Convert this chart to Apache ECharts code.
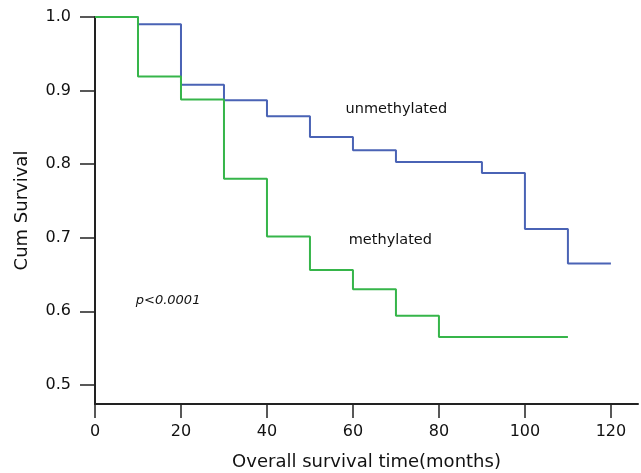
<!DOCTYPE html>
<html>
<head>
<meta charset="utf-8">
<script src="https://cdn.jsdelivr.net/npm/echarts@6/dist/echarts.min.js"></script>
<style>
  html, body { margin: 0; padding: 0; background: #fff; }
  #main { width: 641px; height: 473px; }
</style>
</head>
<body>
<div id="main"></div>
<script>
// step points: survival holds until next time point
var months = [0, 10, 20, 30, 40, 50, 60, 70, 80, 90, 100, 110, 120];
var unmethylated = [1.0, 0.99, 0.908, 0.887, 0.865, 0.837, 0.819, 0.803, 0.803, 0.788, 0.712, 0.665, 0.665];
var methylated = [1.0, 0.919, 0.888, 0.780, 0.7015, 0.656, 0.630, 0.594, 0.565, 0.565, 0.565, 0.565];
var xTicks = [0, 20, 40, 60, 80, 100, 120];
var yTicks = [0.5, 0.6, 0.7, 0.8, 0.9, 1.0];

var font = 'DejaVu Sans';
var axisColor = '#222';

function pairs(xs, ys) {
  return ys.map(function (v, i) { return [xs[i], v]; });
}

var chart = echarts.init(document.getElementById('main'));

chart.setOption({
  animation: false,
  backgroundColor: '#fff',
  grid: { left: 95, right: 3, top: 17, bottom: 69, outerBoundsMode: 'none' },
  xAxis: {
    type: 'value',
    min: 0,
    max: 126.3,
    name: 'Overall survival time(months)',
    nameLocation: 'middle',
    nameGap: 49,
    nameTextStyle: { fontFamily: font, fontSize: 18, color: '#111' },
    splitLine: { show: false },
    axisLine: { lineStyle: { color: axisColor, width: 2 } },
    axisTick: { customValues: xTicks, length: 14, lineStyle: { color: axisColor, width: 1.5 } },
    axisLabel: { customValues: xTicks, margin: 20, fontFamily: font, fontSize: 16, color: '#111' }
  },
  yAxis: {
    type: 'value',
    min: 0.474,
    max: 1.0,
    name: 'Cum Survival',
    nameLocation: 'middle',
    nameGap: 64,
    nameRotate: 90,
    nameTextStyle: { fontFamily: font, fontSize: 18, color: '#111' },
    splitLine: { show: false },
    axisLine: { lineStyle: { color: axisColor, width: 2 } },
    axisTick: { customValues: yTicks, length: 15, lineStyle: { color: axisColor, width: 1.5 } },
    axisLabel: {
      customValues: yTicks, margin: 24, fontFamily: font, fontSize: 16, color: '#111',
      formatter: function (v) { return v.toFixed(1); }
    }
  },
  series: [
    {
      name: 'unmethylated',
      type: 'line',
      step: 'end',
      symbol: 'none',
      data: pairs(months, unmethylated),
      lineStyle: { color: '#4a63b5', width: 2 },
      markPoint: {
        symbol: 'circle', symbolSize: 0,
        label: { show: true, formatter: '{b}', fontFamily: font, fontSize: 14.5, color: '#111' },
        data: [{ name: 'unmethylated', coord: [70.1, 0.875] }]
      }
    },
    {
      name: 'methylated',
      type: 'line',
      step: 'end',
      symbol: 'none',
      data: pairs(months, methylated),
      lineStyle: { color: '#36b54a', width: 2 },
      markPoint: {
        symbol: 'circle', symbolSize: 0,
        label: { show: true, formatter: '{b}', fontFamily: font, fontSize: 14.5, color: '#111' },
        data: [
          { name: 'methylated', coord: [68.7, 0.697] },
          { name: 'p<0.0001', coord: [17, 0.614],
            label: { fontStyle: 'italic', fontSize: 13 } }
        ]
      }
    }
  ]
});
</script>
</body>
</html>
